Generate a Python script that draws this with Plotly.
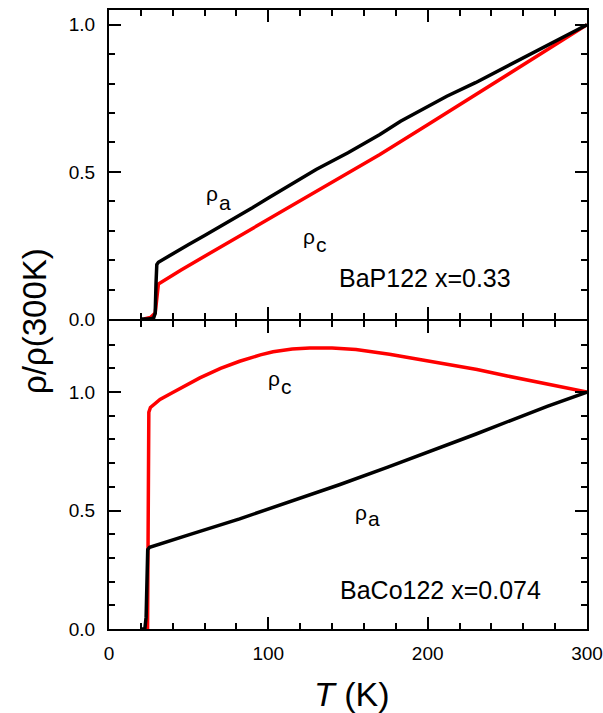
import plotly.graph_objects as go

# ---- data: BaP122 x=0.33 (top panel) ----
T_a_top = [20, 25, 28, 29, 29.5, 30, 31, 35, 40, 50, 60, 76, 90, 100, 115, 130, 150, 170, 183, 200, 212, 230, 254, 275, 300]
rho_a_top = [0.0, 0.0, 0.003, 0.02, 0.12, 0.185, 0.193, 0.205, 0.222, 0.253, 0.284, 0.333, 0.378, 0.411, 0.46, 0.508, 0.565, 0.627, 0.672, 0.72, 0.757, 0.803, 0.87, 0.93, 1.0]

T_c_top = [22, 26, 29, 30, 31, 45, 80, 100, 130, 155, 170, 200, 233, 260, 300]
rho_c_top = [0.0, 0.005, 0.02, 0.07, 0.119, 0.166, 0.276, 0.339, 0.434, 0.512, 0.559, 0.66, 0.772, 0.864, 1.0]

# ---- data: BaCo122 x=0.074 (bottom panel) ----
T_a_bot = [19.5, 22.5, 23.3, 23.8, 24.3, 25.5, 28, 32, 50, 82, 110, 145, 175, 208, 230, 252, 275, 300]
rho_a_bot = [0.0, 0.0, 0.05, 0.3, 0.335, 0.345, 0.35, 0.36, 0.397, 0.465, 0.528, 0.61, 0.683, 0.765, 0.822, 0.88, 0.94, 1.0]

T_c_bot = [24.2, 24.5, 24.7, 25.0, 26, 28, 32, 40, 57, 70, 82, 95, 103, 115, 126, 140, 155, 176, 200, 231, 250, 266, 285, 300]
rho_c_bot = [0.0, 0.4, 0.85, 0.915, 0.935, 0.948, 0.969, 0.998, 1.06, 1.10, 1.13, 1.157, 1.170, 1.182, 1.186, 1.186, 1.18, 1.16, 1.131, 1.095, 1.068, 1.046, 1.02, 1.0]

x_tickvals = [0, 100, 200, 300]
y_tickvals = [0.0, 0.5, 1.0]

FONT = "Liberation Sans, Arial, sans-serif"
LW = 3.5

fig = go.Figure()
fig.add_trace(go.Scatter(x=T_c_top, y=rho_c_top, mode="lines", line=dict(color="#ff0000", width=LW),
                         xaxis="x2", yaxis="y2", showlegend=False))
fig.add_trace(go.Scatter(x=T_a_top, y=rho_a_top, mode="lines", line=dict(color="black", width=LW),
                         xaxis="x2", yaxis="y2", showlegend=False))
fig.add_trace(go.Scatter(x=T_c_bot, y=rho_c_bot, mode="lines", line=dict(color="#ff0000", width=LW),
                         xaxis="x", yaxis="y", showlegend=False))
fig.add_trace(go.Scatter(x=T_a_bot, y=rho_a_bot, mode="lines", line=dict(color="black", width=LW),
                         xaxis="x", yaxis="y", showlegend=False))

H = 619.0
bot_top = 308 / H   # bottom panel top edge
top_bot = 310 / H   # top panel bottom edge (2px gap so both axis lines coincide)

common_x = dict(range=[0, 300], tickmode="array", tickvals=x_tickvals, ticks="inside", ticklen=12,
                tickwidth=1.5, tickcolor="black", showline=True, linecolor="black", linewidth=2,
                mirror="allticks", showgrid=False, zeroline=False,
                minor=dict(dtick=20, ticks="inside", ticklen=6, tickwidth=1.5, tickcolor="black", showgrid=False),
                tickfont=dict(family=FONT, size=19, color="black"))
common_y = dict(tickmode="array", tickvals=y_tickvals, tickformat=".1f", ticks="inside", ticklen=12,
                tickwidth=1.5, tickcolor="black", showline=True, linecolor="black", linewidth=2,
                mirror="allticks", showgrid=False, zeroline=False,
                minor=dict(dtick=0.1, ticks="inside", ticklen=6, tickwidth=1.5, tickcolor="black", showgrid=False),
                tickfont=dict(family=FONT, size=19, color="black"), ticklabelstandoff=8)

fig.update_layout(
    width=603, height=713,
    margin=dict(l=109, r=16, t=10, b=84, autoexpand=False),
    plot_bgcolor="white", paper_bgcolor="white",
    font=dict(family=FONT, color="black"),
    xaxis=dict(domain=[0, 1], anchor="y", ticklabelstandoff=6, **common_x),
    xaxis2=dict(domain=[0, 1], anchor="y2", showticklabels=False, **common_x),
    yaxis=dict(domain=[0, bot_top], anchor="x", range=[0, 1.30], **common_y),
    yaxis2=dict(domain=[top_bot, 1], anchor="x2", range=[0, 1.05], **common_y),
)

def lab(x, y, text, xr, yr, size=21):
    fig.add_annotation(x=x, y=y, xref=xr, yref=yr, text=text, showarrow=False,
                       font=dict(family=FONT, size=size, color="black"), xanchor="center", yanchor="middle")

# top panel labels
lab(64.7, 0.425, "ρ", "x2", "y2")
lab(73.0, 0.395, "a", "x2", "y2")
lab(125.5, 0.282, "ρ", "x2", "y2")
lab(133.3, 0.252, "c", "x2", "y2")
lab(198.4, 0.139, "BaP122 x=0.33", "x2", "y2", size=25)

# bottom panel labels
lab(103.6, 1.058, "ρ", "x", "y")
lab(111.5, 1.025, "c", "x", "y")
lab(158.2, 0.492, "ρ", "x", "y")
lab(166.5, 0.466, "a", "x", "y")
lab(207.8, 0.164, "BaCo122 x=0.074", "x", "y", size=25)

# axis titles
fig.add_annotation(x=(34 - 109) / 478, y=(629 - 321) / 619, xref="paper", yref="paper",
                   text="ρ/ρ(300K)", textangle=-90, showarrow=False,
                   font=dict(family=FONT, size=33, color="black"), xanchor="center", yanchor="middle")
fig.add_annotation(x=(352 - 109) / 478, y=(629 - 694) / 619, xref="paper", yref="paper",
                   text="<i>T</i> (K)", showarrow=False,
                   font=dict(family=FONT, size=34, color="black"), xanchor="center", yanchor="middle")

fig.write_html("out.html", config={"displayModeBar": False},
               post_script="document.body.style.margin='0';document.body.style.overflow='hidden';")
